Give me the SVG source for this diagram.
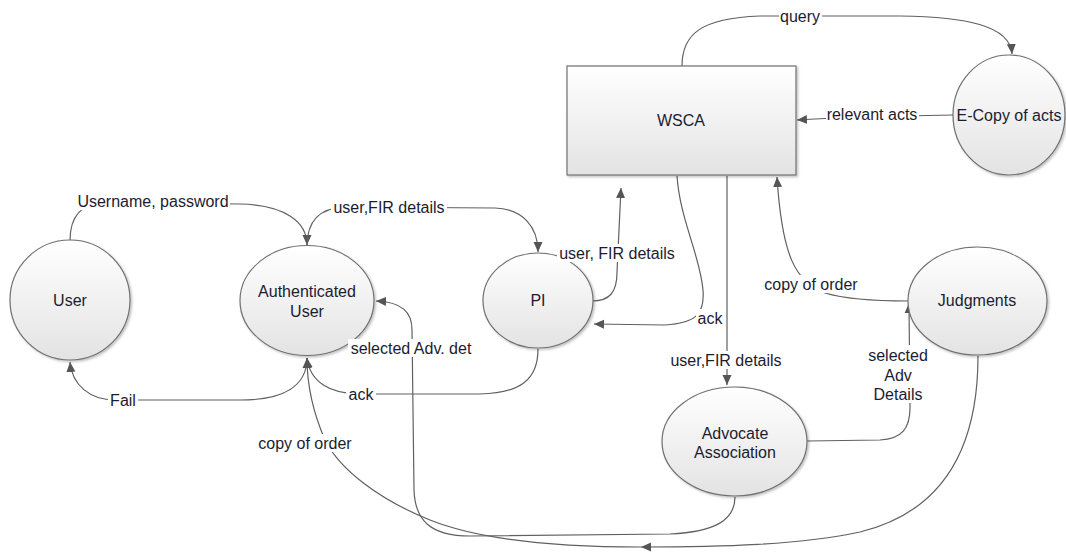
<svg xmlns="http://www.w3.org/2000/svg" width="1066" height="552" viewBox="0 0 1066 552">
  <defs>
    <linearGradient id="nodeFill" x1="0" y1="0" x2="0" y2="1">
      <stop offset="0" stop-color="#ffffff"/>
      <stop offset="1" stop-color="#e3e3e3"/>
    </linearGradient>
    <filter id="shadow" x="-10%" y="-10%" width="125%" height="125%">
      <feDropShadow dx="1.5" dy="1.5" stdDeviation="1.2" flood-color="#000" flood-opacity="0.25"/>
    </filter>
    <marker id="arrow" viewBox="0 0 10 10" refX="10" refY="5" markerWidth="10" markerHeight="10" markerUnits="userSpaceOnUse" orient="auto">
      <path d="M0,0.5 L10,5 L0,9.5 z" fill="#555"/>
    </marker>
    <style>
      .node { fill: url(#nodeFill); stroke: #707070; stroke-width: 1.2; filter: url(#shadow); }
      .edge { fill: none; stroke: #606060; stroke-width: 1.2; }
      .arr { marker-end: url(#arrow); }
      text { font-family: "Liberation Sans", Arial, sans-serif; font-size: 16px; fill: #1c1c30; text-anchor: middle; }
      .bg { fill: #ffffff; }
    </style>
  </defs>
  <rect width="1066" height="552" fill="#ffffff"/>

  <!-- connectors -->
  <g id="connectors">
    <path class="edge arr" d="M70,241 C70,218 80,203 105,203 L240,204 C285,205 307,222 307,245"/>
    <path class="edge arr" d="M307,246 C307,222 318,208 345,207 L495,208 C522,209 538,226 538,252"/>
    <path class="edge arr" d="M592,301 C610,301 617,292 617,272 L621,188"/>
    <path class="edge arr" d="M677,176 C680,220 700,255 703,290 C705,315 695,323 665,325 L594,324"/>
    <path class="edge arr" d="M727,176 L727,385"/>
    <path class="edge arr" d="M908,301 C875,301 845,299 825,293 C795,282 782,255 777,177"/>
    <path class="edge arr" d="M953,115 C900,116 830,118 797,120"/>
    <path class="edge arr" d="M682,66 C682,35 700,18 760,16 L900,16 C965,17 1010,25 1012,54"/>
    <path class="edge arr" d="M807,441 L880,440 C902,439 910,428 910,408 L909,303"/>
    <path class="edge arr" d="M307,358 C307,385 285,400 240,400 L115,400 C90,400 72,385 70,362"/>
    <path class="edge arr" d="M538,349 C538,380 520,393 480,394 L360,394 C330,394 310,382 307,358"/>
    <path class="edge arr" d="M978,356 C978,440 950,510 860,532 C800,545 720,547 641,547"/>
    <path class="edge arr" d="M641,547 C560,547 480,540 430,520 C380,500 340,470 325,440 C312,410 307,385 307,358"/>
    <path class="edge arr" d="M735,497 C735,520 715,532 670,534 L470,536 C430,536 415,520 414,490 L412,330 C412,312 402,302 376,301"/>
  </g>

  <!-- processes and entities -->
  <g id="user">
    <circle class="node" cx="70" cy="300" r="60"/>
    <text x="70" y="305.5">User</text>
  </g>
  <g id="authenticated-user">
    <ellipse class="node" cx="307" cy="300.5" rx="67" ry="55"/>
    <text x="307" y="297">Authenticated</text>
    <text x="307" y="317">User</text>
  </g>
  <g id="pi">
    <ellipse class="node" cx="538" cy="300.5" rx="55" ry="47.5"/>
    <text x="538" y="306">PI</text>
  </g>
  <g id="wsca">
    <rect class="node" x="567" y="66" width="229" height="109"/>
    <text x="681" y="126">WSCA</text>
  </g>
  <g id="e-copy-of-acts">
    <ellipse class="node" cx="1009" cy="115" rx="56" ry="60"/>
    <text x="1009" y="120.5">E-Copy of acts</text>
  </g>
  <g id="judgments">
    <ellipse class="node" cx="977.5" cy="301" rx="69.5" ry="54"/>
    <text x="977" y="306">Judgments</text>
  </g>
  <g id="advocate-association">
    <ellipse class="node" cx="734.5" cy="441.5" rx="72.5" ry="54.5"/>
    <text x="735" y="439">Advocate</text>
    <text x="735" y="458">Association</text>
  </g>

  <!-- flow labels -->
  <g id="labels">
    <rect class="bg" x="76" y="192" width="154" height="18"/>
    <text x="153" y="207">Username, password</text>

    <rect class="bg" x="331" y="198" width="116" height="18"/>
    <text x="389" y="213">user,FIR details</text>

    <rect class="bg" x="557" y="244" width="120" height="18"/>
    <text x="617" y="259">user, FIR details</text>

    <rect class="bg" x="696" y="309" width="29" height="18"/>
    <text x="710" y="324">ack</text>

    <rect class="bg" x="668" y="351" width="116" height="18"/>
    <text x="726" y="366">user,FIR details</text>

    <rect class="bg" x="763" y="275" width="96" height="18"/>
    <text x="811" y="290">copy of order</text>

    <rect class="bg" x="826" y="105" width="93" height="18"/>
    <text x="872" y="120">relevant acts</text>

    <rect class="bg" x="779" y="7" width="43" height="18"/>
    <text x="800" y="22">query</text>

    <rect class="bg" x="866" y="345" width="64" height="58"/>
    <text x="898" y="361">selected</text>
    <text x="898" y="381">Adv</text>
    <text x="898" y="400">Details</text>

    <rect class="bg" x="108" y="391" width="30" height="18"/>
    <text x="123" y="406">Fail</text>

    <rect class="bg" x="346" y="385" width="30" height="18"/>
    <text x="361" y="400">ack</text>

    <rect class="bg" x="257" y="434" width="97" height="18"/>
    <text x="305" y="449">copy of order</text>

    <rect class="bg" x="348" y="339" width="127" height="18"/>
    <text x="411" y="354">selected Adv. det</text>
  </g>
</svg>
